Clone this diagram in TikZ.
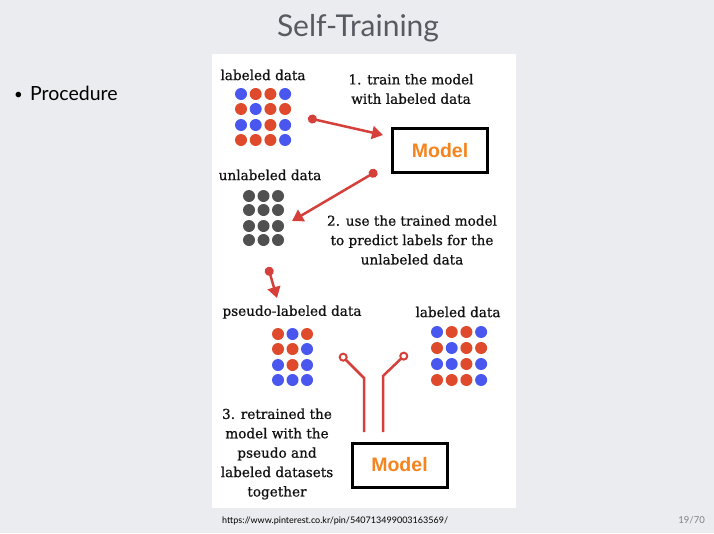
\documentclass[tikz,border=0pt]{standalone}
\usepackage{fontspec}
\setmainfont{DejaVu Serif}
\newfontfamily\diagfont{DejaVu Serif}[FakeBold=0.7]
\newfontfamily\slidefont{Lato}
\newfontfamily\modelfont{Liberation Sans}
\usetikzlibrary{arrows.meta}
\definecolor{slidebg}{HTML}{EBECEF}
\definecolor{titlegray}{HTML}{575B61}
\definecolor{bl}{HTML}{4A57EE}
\definecolor{rd}{HTML}{E04A2C}
\definecolor{gy}{HTML}{505050}
\definecolor{arrowred}{HTML}{D6403A}
\definecolor{modelorange}{HTML}{F5841F}
\definecolor{ink}{HTML}{111111}
\tikzset{
  dot/.style={circle,inner sep=0pt,minimum size=12pt},
  lbl/.style={text=ink,font=\diagfont\fontsize{13.6}{19.4}\selectfont,inner sep=0pt,align=center},
  modelbox/.style={draw=black,line width=3pt,fill=white,minimum width=95pt,minimum height=44pt,
    text=modelorange,font=\modelfont\bfseries\fontsize{19.5}{20}\selectfont},
  redarrow/.style={draw=arrowred,line width=2.5pt,{Circle[length=9pt]}-{Triangle[length=11pt,width=13pt]}},
  redline/.style={draw=arrowred,line width=2.5pt,{Circle[open,length=9pt,width=9pt,line width=2pt]}-},
}
\begin{document}
\begin{tikzpicture}[x=1pt,y=-1pt]
\useasboundingbox (0,0) rectangle (714,533);
\fill[slidebg] (0,0) rectangle (714,533);
\fill[white] (212,54) rectangle (516,508);

% title and bullet
\node[anchor=base,text=titlegray,font=\slidefont\fontsize{30}{30}\selectfont,inner sep=0pt] (title) at (358,36) {Self-Training};
\node[anchor=base west,font=\slidefont\fontsize{15}{15}\selectfont,inner sep=0pt] (bullet) at (14,99) {•};
\node[anchor=base west,font=\slidefont\fontsize{19.5}{20}\selectfont,inner sep=0pt] (proc) at (30,100) {Procedure};

% labels
\node[lbl] (t-lab1) at (263,75) {labeled data};
\node[lbl] (t-step1) at (411,89) {1. train the model\\with labeled data};
\node[lbl] (t-unlab) at (270,175) {unlabeled data};
\node[lbl] (t-step2) at (412,240) {2. use the trained model\\to predict labels for the\\unlabeled data};
\node[lbl] (t-pseudo) at (292,312) {pseudo-labeled data};
\node[lbl] (t-lab2) at (458,312) {labeled data};
\node[lbl] (t-step3) at (277,454) {3. retrained the\\model with the\\pseudo and\\labeled datasets\\together};

% top labeled grid
\foreach \c [count=\j] in {bl,rd,rd,bl} \node[dot,fill=\c] (la-1-\j) at ({241+14.7*(\j-1)},94) {};
\foreach \c [count=\j] in {rd,bl,rd,rd} \node[dot,fill=\c] (la-2-\j) at ({241+14.7*(\j-1)},109) {};
\foreach \c [count=\j] in {bl,bl,rd,bl} \node[dot,fill=\c] (la-3-\j) at ({241+14.7*(\j-1)},125) {};
\foreach \c [count=\j] in {rd,rd,rd,bl} \node[dot,fill=\c] (la-4-\j) at ({241+14.7*(\j-1)},140) {};

% unlabeled grid
\foreach \y [count=\i] in {196,210,226,240}
  \foreach \j in {1,2,3} \node[dot,fill=gy] (ul-\i-\j) at ({249+14.5*(\j-1)},\y) {};

% pseudo-labeled grid
\foreach \c [count=\j] in {rd,bl,rd} \node[dot,fill=\c] (ps-1-\j) at ({278+14.5*(\j-1)},334) {};
\foreach \c [count=\j] in {rd,rd,bl} \node[dot,fill=\c] (ps-2-\j) at ({278+14.5*(\j-1)},349) {};
\foreach \c [count=\j] in {bl,rd,bl} \node[dot,fill=\c] (ps-3-\j) at ({278+14.5*(\j-1)},365) {};
\foreach \c [count=\j] in {bl,bl,bl} \node[dot,fill=\c] (ps-4-\j) at ({278+14.5*(\j-1)},380) {};

% right labeled grid
\foreach \c [count=\j] in {bl,rd,rd,bl} \node[dot,fill=\c] (lb-1-\j) at ({437+14.7*(\j-1)},332) {};
\foreach \c [count=\j] in {rd,bl,rd,rd} \node[dot,fill=\c] (lb-2-\j) at ({437+14.7*(\j-1)},348) {};
\foreach \c [count=\j] in {bl,bl,rd,bl} \node[dot,fill=\c] (lb-3-\j) at ({437+14.7*(\j-1)},364) {};
\foreach \c [count=\j] in {rd,rd,rd,bl} \node[dot,fill=\c] (lb-4-\j) at ({437+14.7*(\j-1)},380) {};

% model boxes
\node[modelbox] (model1) at (440,150.5) {Model};
\node[modelbox] (model2) at (399.5,465) {Model};

% arrows
\coordinate (a1s) at (308,118);
\coordinate (a1e) at (383,135);
\coordinate (a2s) at (377,171);
\coordinate (a2e) at (292,221);
\coordinate (a3s) at (268,267);
\coordinate (a3e) at (277,298);
\draw[redarrow] (a1s) -- (a1e);
\draw[redarrow] (a2s) -- (a2e);
\draw[redarrow] (a3s) -- (a3e);

% feed lines into model 2
\coordinate (fls) at (340,354);
\coordinate (flm) at (364,378);
\coordinate (fle) at (364,432);
\coordinate (frs) at (407,353);
\coordinate (frm) at (383,376);
\coordinate (fre) at (383,432);
\draw[redline] (fls) -- (flm) -- (fle);
\draw[redline] (frs) -- (frm) -- (fre);

% footer
\node[anchor=base west,font=\slidefont\fontsize{9}{9}\selectfont,inner sep=0pt] (url) at (222,523) {https://www.pinterest.co.kr/pin/540713499003163569/};
\node[anchor=base east,text=gray,font=\slidefont\fontsize{9.5}{9.5}\selectfont,inner sep=0pt] (pageno) at (705,523) {19/70};
\end{tikzpicture}
\end{document}
